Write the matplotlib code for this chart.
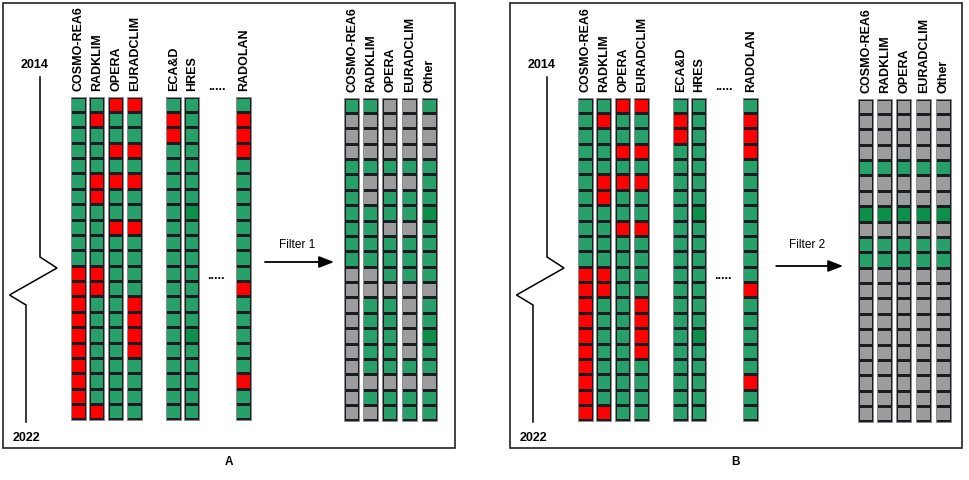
import matplotlib
matplotlib.use('Agg')
import matplotlib.pyplot as plt
from matplotlib.patches import Rectangle

plt.rcParams['font.family'] = ['Liberation Sans', 'DejaVu Sans']

# ---------------- data ----------------
# one character per year-step from 2014 (top) to 2022 (bottom)
# g = available, r = missing, d = available (highlighted), x = discarded
sources_in = ['COSMO-REA6', 'RADKLIM', 'OPERA', 'EURADCLIM', 'ECA&D', 'HRES', 'RADOLAN']
status_in = [
    'gggggggggggrrrrrrrrrr',
    'grgggrrggggrrgggggggr',
    'rggrgrggrgggggggggggg',
    'rggrgrggrggggrrrrgggg',
    'grrgggggggggggggggggg',
    'gggggggdgggggggdggggg',
    'grrrggggggggrgggggrgg',
]
sources_out = ['COSMO-REA6', 'RADKLIM', 'OPERA', 'EURADCLIM', 'Other']
status_filter1 = [
    'gxxxgggggggxxxxxxxxxx',
    'gxxxgxxggggxxgggggxgx',
    'xxxxgxggxgggxgggggxgg',
    'xxxxgxggxgggxxxxxgxgg',
    'gxxxgggdggggxggdggxgg',
]
status_filter2 = [
    'xxxxgxxdxggxxxxxxxxxx',
    'xxxxgxxdxggxxxxxxxxxx',
    'xxxxgxxdxggxxxxxxxxxx',
    'xxxxgxxdxggxxxxxxxxxx',
    'xxxxgxxdxggxxxxxxxxxx',
]
filter_names = ['Filter 1', 'Filter 2']
panel_letters = ['A', 'B']
year_start, year_end = '2014', '2022'

colors = {'g': '#27a06a', 'r': '#ff0000', 'd': '#0c8f48', 'x': '#9c9c9c'}

# ---------------- layout (pixel coords) ----------------
fig = plt.figure(figsize=(9.69, 4.80), dpi=100)
ax = fig.add_axes([0, 0, 1, 1])
ax.set_xlim(0, 969)
ax.set_ylim(480, 0)
ax.axis('off')

pitch = 15.38
col_w = 15.0


def draw_column(cx, top, states, label):
    n = len(states)
    ax.add_patch(Rectangle((cx - col_w / 2, top - 0.5), col_w, n * pitch + 1,
                           facecolor='#1b1b22', edgecolor='#8c8c8c', lw=0.6))
    for i, s in enumerate(states):
        ax.add_patch(Rectangle((cx - 6.2, top + i * pitch + 1.5), 12.4, pitch - 3.0,
                               facecolor=colors[s], edgecolor='none'))
    ax.text(cx + 0.5, top - 6, label, rotation=90, ha='center', va='bottom',
            fontsize=9, fontweight='bold')


def draw_panel(dx, dx_out, status_out, fname, letter):
    # frame
    ax.add_patch(Rectangle((3 + dx, 3), 452, 445, facecolor='none',
                           edgecolor='#222222', lw=1.2))
    # time bracket
    xs = [40, 40, 57, 9.5, 26, 26]
    ys = [77, 257, 268, 295, 305, 422]
    ax.plot([x + dx for x in xs], ys, color='black', lw=1.1, solid_joinstyle='miter')
    ax.text(35 + dx, 65, year_start, ha='center', va='center', fontsize=9, fontweight='bold')
    ax.text(26 + dx, 438, year_end, ha='center', va='center', fontsize=9, fontweight='bold')

    top = 97 + (1 if dx else 0)
    xin = [78.5, 97, 116, 134.5, 173.5, 192, 243.5]
    for cx, lab, st in zip(xin, sources_in, status_in):
        draw_column(cx + dx, top, st, lab)
    ax.text(217 + dx, 87, '.....', ha='center', va='center', fontsize=9, fontweight='bold')
    ax.text(216 + dx, 276, '.....', ha='center', va='center', fontsize=9, fontweight='bold')

    xout = [352, 370.5, 390, 409.5, 429.5]
    for cx, lab, st in zip(xout, sources_out, status_out):
        draw_column(cx + dx_out, top + 1, st, lab)

    ax.annotate('', xy=(334 + dx + (dx_out - dx) * 0.3, 262 + (4 if dx else 0)),
                xytext=(265 + dx + (dx_out - dx) * 0.6, 262 + (4 if dx else 0)),
                arrowprops=dict(arrowstyle='-|>,head_length=0.9,head_width=0.35',
                                color='black', lw=1.3, shrinkA=0, shrinkB=0))
    ax.text(297 + dx + (dx_out - dx) * 0.45, 245, fname, ha='center', va='center', fontsize=8.6)
    ax.text(229 + dx, 462, letter, ha='center', va='center', fontsize=8.5, fontweight='bold')


draw_panel(0, 0, status_filter1, filter_names[0], panel_letters[0])
draw_panel(507, 514, status_filter2, filter_names[1], panel_letters[1])

fig.savefig('out.png', dpi=100, facecolor='white')
